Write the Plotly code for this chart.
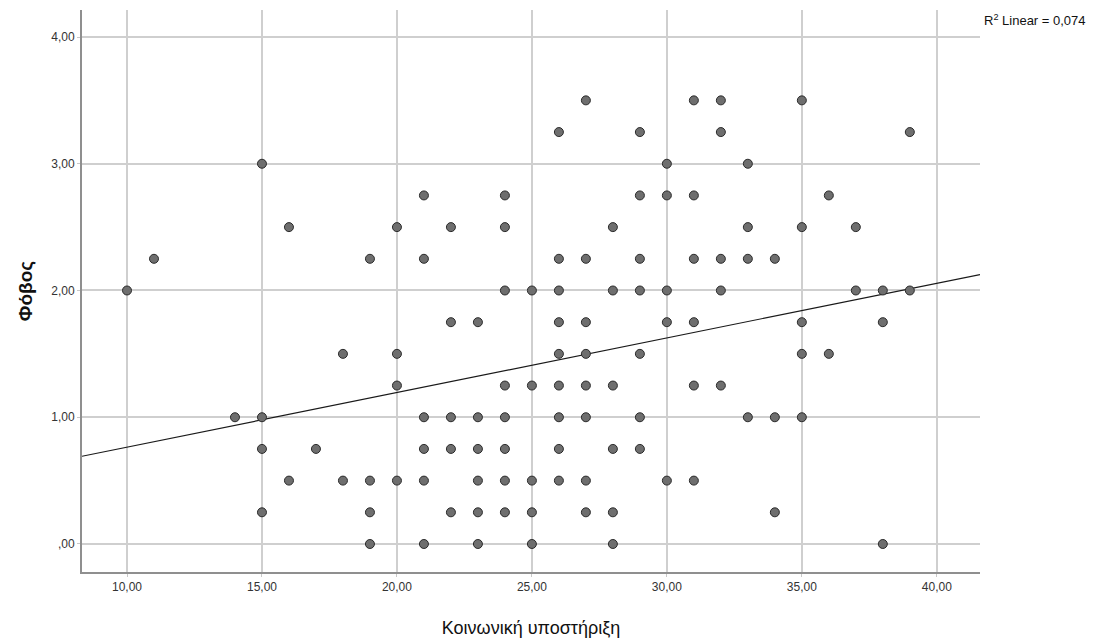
import plotly.graph_objects as go

# Social support score (x) grouped by fear score level (y)
fear_levels = [3.50, 3.25, 3.00, 2.75, 2.50, 2.25, 2.00, 1.75, 1.50, 1.25, 1.00, 0.75, 0.50, 0.25, 0.00]
support_by_level = [
    [27, 31, 32, 35],
    [26, 29, 32, 39],
    [15, 30, 33],
    [21, 24, 29, 30, 31, 36],
    [16, 20, 22, 24, 28, 33, 35, 37],
    [11, 19, 21, 26, 27, 29, 31, 32, 33, 34],
    [10, 24, 25, 26, 28, 29, 30, 32, 37, 38, 39],
    [22, 23, 26, 27, 30, 31, 35, 38],
    [18, 20, 26, 27, 29, 35, 36],
    [20, 24, 25, 26, 27, 28, 31, 32],
    [14, 15, 21, 22, 23, 24, 26, 27, 29, 33, 34, 35],
    [15, 17, 21, 22, 23, 24, 26, 28, 29],
    [16, 18, 19, 20, 21, 23, 24, 25, 26, 27, 30, 31],
    [15, 19, 22, 23, 24, 25, 27, 28, 34],
    [19, 21, 23, 25, 28, 38],
]

# Linear fit line (Φόβος = intercept + slope * Κοινωνική υποστήριξη)
fit_intercept = 0.333
fit_slope = 0.0431
r_squared_label = "0,074"

x_range = [8.333, 41.60]
y_range = [-0.221, 4.213]
x_ticks = [10, 15, 20, 25, 30, 35, 40]
x_tick_labels = ["10,00", "15,00", "20,00", "25,00", "30,00", "35,00", "40,00"]
y_ticks = [0, 1, 2, 3, 4]
y_tick_labels = [",00", "1,00", "2,00", "3,00", "4,00"]

support = []
fear = []
for level, xs in zip(fear_levels, support_by_level):
    for v in xs:
        support.append(v)
        fear.append(level)

fig = go.Figure()

fig.add_trace(go.Scatter(
    x=x_range,
    y=[fit_intercept + fit_slope * x for x in x_range],
    mode="lines",
    line=dict(color="#1a1a1a", width=1.2),
    hoverinfo="skip",
    showlegend=False,
))

fig.add_trace(go.Scatter(
    x=support, y=fear, mode="markers",
    marker=dict(size=9, color="#6e6e6e", line=dict(color="#2a2a2a", width=1)),
    showlegend=False,
))

font_family = "Liberation Sans, Arial, sans-serif"

axis_common = dict(
    showgrid=True, gridcolor="#cfcfcf", gridwidth=1.5,
    zeroline=False, showline=True, linecolor="#8f8f8f", linewidth=2,
    ticks="outside", ticklen=3, tickcolor="#c8c8c8",
    tickfont=dict(family=font_family, size=12, color="#333333"),
    automargin=False,
)

fig.update_xaxes(
    range=x_range, tickvals=x_ticks, ticktext=x_tick_labels,
    title=dict(text="Κοινωνική υποστήριξη", standoff=28,
               font=dict(family=font_family, size=18, color="#111111")),
    **axis_common,
)
fig.update_yaxes(
    range=y_range, tickvals=y_ticks, ticktext=y_tick_labels,
    title=dict(text="<b>Φόβος</b>", standoff=14,
               font=dict(family=font_family, size=19, color="#111111")),
    **axis_common,
)

fig.add_annotation(
    xref="paper", yref="paper", x=1.002, y=0.982,
    xanchor="left", yanchor="middle", showarrow=False,
    text=f"R<sup>2</sup> Linear = {r_squared_label}",
    font=dict(family=font_family, size=13, color="#111111"),
)

fig.update_layout(
    width=1098, height=641,
    margin=dict(l=82, r=118, t=10, b=69, autoexpand=False),
    paper_bgcolor="white", plot_bgcolor="white",
)

fig.write_html("out.html")
